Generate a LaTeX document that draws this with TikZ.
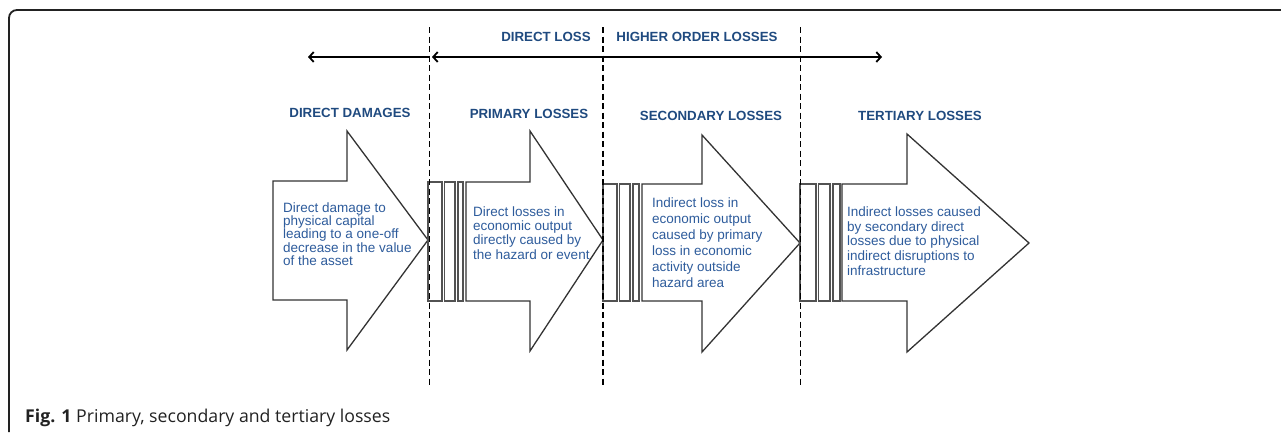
\documentclass[tikz,border=0pt]{standalone}
\usepackage{fontspec}
\setmainfont{Liberation Sans}
\newfontfamily\capfont{Open Sans}
\usetikzlibrary{arrows.meta}
\definecolor{headblue}{HTML}{1F4A7F}
\definecolor{bodyblue}{HTML}{2E5C9C}
\definecolor{shapegray}{HTML}{333333}
\definecolor{framegray}{HTML}{222222}
\begin{document}
\begin{tikzpicture}[x=1pt,y=-1pt,
  bigarrow/.style={draw=shapegray,line width=1.3pt,line join=miter,fill=white},
  stripe/.style={draw=shapegray!85,line width=1.3pt,fill=white},
  divider/.style={draw=black,line width=1.9pt,dash pattern=on 6pt off 3.5pt},
  spanarrow/.style={draw=black,line width=1.8pt,-{Straight Barb[length=4.5pt,width=10pt]}},
  heading/.style={font=\fontsize{13.3}{15}\selectfont\bfseries,text=headblue,inner sep=0pt},
  bodytext/.style={align=left,anchor=west,inner sep=0pt,text=bodyblue}]
\useasboundingbox (0,0) rectangle (1281,432);
% frame
\draw[framegray,line width=1.8pt,rounded corners=8pt] (9,432) -- (9,10) -- (1281,10);
% dividers
\coordinate (d1t) at (429.5,27); \coordinate (d1b) at (429.5,387);
\coordinate (d2t) at (603,27);   \coordinate (d2b) at (603,387);
\coordinate (d3t) at (800.5,27); \coordinate (d3b) at (800.5,387);
% span arrows
\coordinate (s1) at (429.5,57); \coordinate (e1) at (308,57);
\coordinate (s2) at (603,57);   \coordinate (e2) at (432,57);
\coordinate (e3) at (882,57);
\draw[spanarrow] (s1) -- (e1);
\draw[spanarrow] (s2) -- (e2);
\draw[spanarrow] (s2) -- (e3);
\node[heading] (dl) at (546,37) {DIRECT LOSS};
\node[heading] (hol) at (697,37) {HIGHER ORDER LOSSES};
% arrow 1
\draw[bigarrow] (273,181) -- (347,181) -- (347,131) -- (428,240) -- (347,350) -- (347,300) -- (273,300) -- cycle;
% arrow 2
\draw[stripe] (428,182) rectangle (442,301);
\draw[stripe] (444.5,182) rectangle (455,301);
\draw[stripe] (458,182) rectangle (463,301);
\draw[bigarrow] (466,182) -- (530,182) -- (530,131) -- (603,240) -- (530,351) -- (530,301) -- (466,301) -- cycle;
% arrow 3
\draw[stripe] (603,184) rectangle (617,301);
\draw[stripe] (619.5,184) rectangle (630,301);
\draw[stripe] (633,184) rectangle (639,301);
\draw[bigarrow] (642,184) -- (702,184) -- (702,135) -- (800,243) -- (702,352) -- (702,301) -- (642,301) -- cycle;
% arrow 4
\draw[stripe] (800,184) rectangle (816,301);
\draw[stripe] (818.5,184) rectangle (830,301);
\draw[stripe] (833,184) rectangle (840,301);
\draw[bigarrow] (842,184) -- (907,184) -- (907,134) -- (1029,243) -- (907,352) -- (907,301) -- (842,301) -- cycle;
% dividers on top
\draw[divider] (d1t) -- (d1b);
\draw[divider] (d2t) -- (d2b);
\draw[divider] (d3t) -- (d3b);
% headings
\node[heading] (h1) at (350,113) {DIRECT DAMAGES};
\node[heading] (h2) at (529,114) {PRIMARY LOSSES};
\node[heading] (h3) at (711,116) {SECONDARY LOSSES};
\node[heading] (h4) at (920,116) {TERTIARY LOSSES};
% body texts
\node[bodytext,font=\fontsize{13.5}{13.2}\selectfont] (t1) at (283,234) {Direct damage to\\physical capital\\leading to a one-off\\decrease in the value\\of the asset};
\node[bodytext,font=\fontsize{13.5}{14.3}\selectfont] (t2) at (473,233) {Direct losses in\\economic output\\directly caused by\\the hazard or event};
\node[bodytext,font=\fontsize{13.5}{16}\selectfont] (t3) at (652,243) {Indirect loss in\\economic output\\caused by primary\\loss in economic\\activity outside\\hazard area};
\node[bodytext,font=\fontsize{13.5}{14.6}\selectfont] (t4) at (847,241) {Indirect losses caused\\by secondary direct\\losses due to physical\\indirect disruptions to\\infrastructure};
% caption
\node[anchor=west,inner sep=0pt,font=\capfont\fontsize{17.7}{20}\selectfont,text=framegray] (cap) at (25,418) {\textbf{Fig. 1} Primary, secondary and tertiary losses};
\end{tikzpicture}
\end{document}
